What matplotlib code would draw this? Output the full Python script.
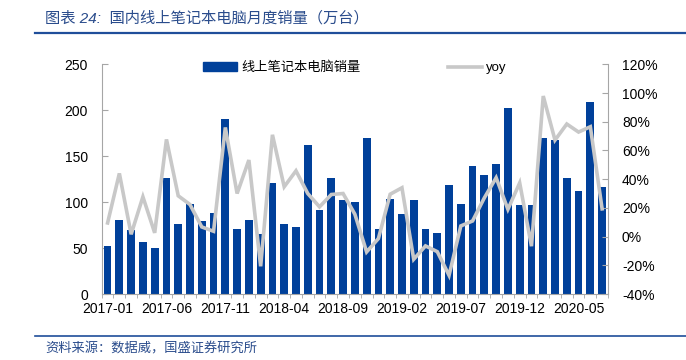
import matplotlib
matplotlib.use("Agg")
import matplotlib.pyplot as plt
from matplotlib.lines import Line2D
from matplotlib.patches import Patch
import numpy as np

plt.rcParams['font.family'] = ['Liberation Sans', 'Noto Sans CJK SC', 'DejaVu Sans']

months = [f"{y}-{m:02d}" for y in range(2017, 2021) for m in range(1, 13)][:43]
sales = [52, 81, 70, 57, 50, 126, 76, 98, 79, 88, 190, 71, 80, 65, 121, 76, 73, 162, 91, 126,
         102, 100, 170, 71, 103, 87, 102, 71, 66, 119, 98, 139, 130, 141, 202, 97, 97, 170, 168,
         126, 112, 209, 116]
yoy = [9.5, 44, 1.6, 27.7, 2.6, 67.7, 28.4, 22.3, 6.7, 3.7, 76, 30, 53.3, -20.7, 70.9, 34.7,
       45.8, 30, 20.7, 29.3, 30, 15.6, -10.7, -1.4, 29.5, 34, -15.8, -6.5, -10.5, -27, 7.4,
       10.9, 27, 41, 19, 37.4, -6.7, 97.9, 67.2, 78.4, 72.8, 76.5, 19.3]
left_ticks = [0, 50, 100, 150, 200, 250]
right_ticks = [-40, -20, 0, 20, 40, 60, 80, 100, 120]
bar_label = "线上笔记本电脑销量"
line_label = "yoy"
title = "图表 24:  国内线上笔记本电脑月度销量（万台）"
source = "资料来源：数据威，国盛证券研究所"

W, H = 686, 360
fig = plt.figure(figsize=(W / 100, H / 100), dpi=100)
ax = fig.add_axes([101.7 / W, 1 - 294 / H, (608 - 101.7) / W, (294 - 64.3) / H])
ax2 = ax.twinx()

x = np.arange(len(sales))
bar_color = "#00409A"
line_color = "#C8C8C8"
ax.bar(x, sales, width=0.66, color=bar_color, zorder=2)
ax2.plot(x, yoy, color=line_color, lw=2.6, zorder=3, solid_joinstyle='miter')

ax.set_xlim(-0.48, 42.42)
ax.set_ylim(0, 250)
ax2.set_ylim(-40, 120)
ax.set_yticks(left_ticks)
ax.set_yticklabels([str(v) for v in left_ticks])
ax2.set_yticks(right_ticks)
ax2.set_yticklabels([f"{v}%" for v in right_ticks])
ax.set_xticks(x[::5])
ax.set_xticklabels([months[i] for i in x[::5]])
ax.set_xticks(np.arange(-0.5, len(sales), 1), minor=True)

spine_c = "#A6A6A6"
for a in (ax, ax2):
    for s in a.spines.values():
        s.set_visible(False)
ax.spines['left'].set_visible(True)
ax.spines['left'].set_color(spine_c)
ax.spines['bottom'].set_visible(True)
ax.spines['bottom'].set_color(spine_c)
ax2.spines['right'].set_visible(True)
ax2.spines['right'].set_color(spine_c)

ax.tick_params(axis='y', direction='in', length=4, color=spine_c, labelsize=10, pad=10)
ax2.tick_params(axis='y', direction='in', length=4, color=spine_c, labelsize=10, pad=10)
ax.tick_params(axis='x', which='major', length=0, labelsize=10, pad=6)
ax.tick_params(axis='x', which='minor', direction='out', length=3, color=spine_c)

handles = [Patch(facecolor=bar_color, edgecolor=bar_color),
           Line2D([0], [0], color=line_color, lw=2.6)]
fig.legend(handles, [bar_label, line_label], loc='center left',
           bbox_to_anchor=(203 / W, 1 - 68 / H), ncol=2, frameon=False,
           fontsize=9.5, handlelength=2.6, handleheight=0.6, handletextpad=0.3,
           columnspacing=6.6, borderpad=0, borderaxespad=0)

title_c = "#2A4C8C"
fig.text(45 / W, 1 - 18 / H, title, fontsize=11, color=title_c, va='center', ha='left',
         fontstyle='italic')
fig.add_artist(Line2D([35 / W, 1], [1 - 33 / H, 1 - 33 / H], color="#1F4E9A", lw=1.6))
fig.add_artist(Line2D([35 / W, 1], [1 - 336 / H, 1 - 336 / H], color="#1F4E9A", lw=1.2))
fig.text(45 / W, 1 - 349 / H, source, fontsize=9.5, color=title_c, va='center', ha='left',
         fontstyle='italic')

fig.savefig("out.png", dpi=100)
